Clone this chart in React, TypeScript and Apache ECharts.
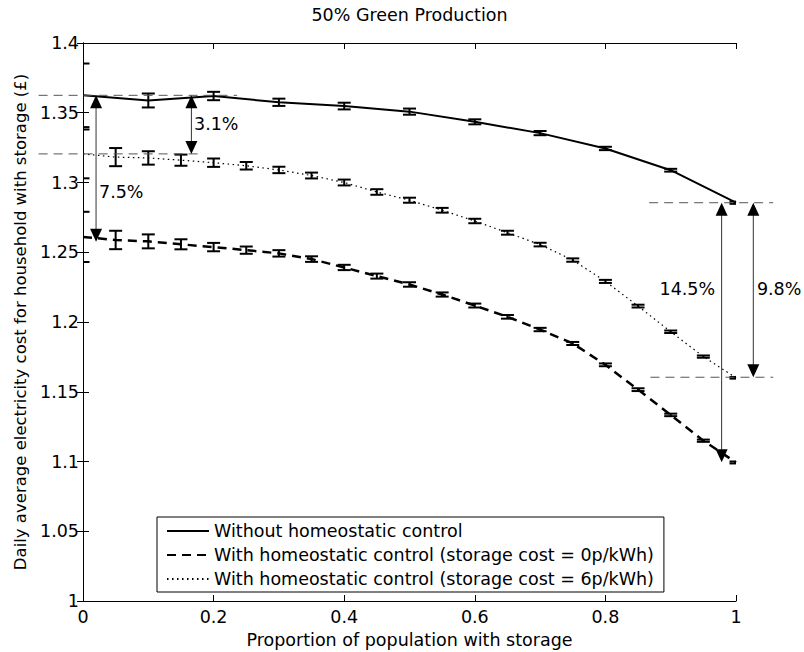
import React, { useEffect, useRef } from 'react';
import * as echarts from 'echarts';

// Proportion of population with storage
const xCoarse = [0, 0.1, 0.2, 0.3, 0.4, 0.5, 0.6, 0.7, 0.8, 0.9, 1.0];
const xFine = [0, 0.05, 0.1, 0.15, 0.2, 0.25, 0.3, 0.35, 0.4, 0.45, 0.5, 0.55, 0.6, 0.65, 0.7, 0.75, 0.8, 0.85, 0.9, 0.95, 1.0];

// Without homeostatic control
const noControl = [1.3625, 1.3588, 1.3620, 1.3575, 1.3548, 1.3508, 1.3435, 1.3354, 1.3244, 1.3088, 1.2855];
const noControlErr = [0.0228, 0.0050, 0.0030, 0.0026, 0.0024, 0.0022, 0.0018, 0.0015, 0.0012, 0.0010, 0.0008];

// With homeostatic control (storage cost = 0p/kWh)
const cost0 = [1.2610, 1.2588, 1.2578, 1.2557, 1.2537, 1.2515, 1.2492, 1.2451, 1.2391, 1.2329, 1.2269, 1.2197, 1.2118, 1.2037, 1.1946, 1.1846, 1.1693, 1.1515, 1.1334, 1.1149, 1.0993];
const cost0Err = [0.0180, 0.0066, 0.0050, 0.0036, 0.0030, 0.0026, 0.0023, 0.0020, 0.0019, 0.0018, 0.0016, 0.0015, 0.0014, 0.0013, 0.0012, 0.0011, 0.0010, 0.0010, 0.0009, 0.0008, 0.0007];

// With homeostatic control (storage cost = 6p/kWh)
const cost6 = [1.3205, 1.3182, 1.3176, 1.3160, 1.3142, 1.3120, 1.3090, 1.3050, 1.3000, 1.2932, 1.2873, 1.2801, 1.2724, 1.2640, 1.2555, 1.2444, 1.2291, 1.2114, 1.1930, 1.1752, 1.1600];
const cost6Err = [0.0175, 0.0065, 0.0048, 0.0040, 0.0030, 0.0027, 0.0023, 0.0021, 0.0021, 0.0020, 0.0018, 0.0017, 0.0016, 0.0014, 0.0013, 0.0012, 0.0011, 0.0010, 0.0009, 0.0008, 0.0006];

const seriesNames = [
  'Without homeostatic control',
  'With homeostatic control (storage cost = 0p/kWh)',
  'With homeostatic control (storage cost = 6p/kWh)',
];

const titleText = '50% Green Production';
const xAxisName = 'Proportion of population with storage';
const yAxisName = 'Daily average electricity cost for household with storage (£)';

// Annotation reference lines: [xFrom, xTo, y]
const refLines = [
  [-0.068, 0.236, 1.3625],
  [-0.068, 0.179, 1.3205],
  [0.867, 1.057, 1.2855],
  [0.869, 1.057, 1.1604],
];
// Double arrows: [x, yTop, yBottom]
const arrows = [
  [0.02, 1.3625, 1.2575],
  [0.166, 1.3625, 1.3205],
  [0.978, 1.2855, 1.0995],
  [1.0265, 1.2855, 1.1604],
];
// Annotation labels
const annoText = ['7.5%', '3.1%', '14.5%', '9.8%'];
const annoPos = [
  [0.0245, 1.293],
  [0.170, 1.3418],
  [0.968, 1.2233],
  [1.032, 1.2233],
];
const annoAlign = ['left', 'left', 'right', 'left'];

const FONT = 'DejaVu Sans';
const FS = 17.5;

function errSeries(xs: number[], ys: number[], es: number[]) {
  return {
    type: 'custom',
    coordinateSystem: 'cartesian2d',
    clip: true,
    silent: true,
    z: 5,
    encode: { x: 0, y: 1 },
    data: xs.map((x, i) => [x, ys[i], es[i]]),
    renderItem: (params: any, api: any) => {
      const x = api.value(0);
      const y = api.value(1);
      const e = api.value(2);
      const t = api.coord([x, y + e]);
      const b = api.coord([x, y - e]);
      const hw = 6.5;
      const st = { stroke: '#000', lineWidth: 2 };
      return {
        type: 'group',
        children: [
          { type: 'line', shape: { x1: t[0], y1: t[1], x2: b[0], y2: b[1] }, style: st },
          { type: 'line', shape: { x1: t[0] - hw, y1: t[1], x2: t[0] + hw, y2: t[1] }, style: st },
          { type: 'line', shape: { x1: b[0] - hw, y1: b[1], x2: b[0] + hw, y2: b[1] }, style: st },
        ],
      };
    },
  };
}

export default function App() {
  const ref = useRef<HTMLDivElement>(null);
  useEffect(() => {
    if (!ref.current) return;
    const chart = echarts.init(ref.current, null, { renderer: 'svg' });
    const axisCommon = {
      type: 'value',
      axisLine: { show: true, lineStyle: { color: '#000', width: 1 } },
      axisTick: { show: true, inside: true, length: 6, lineStyle: { color: '#000' } },
      splitLine: { show: false },
    };
    const option: any = {
      animation: false,
      backgroundColor: '#fff',
      textStyle: { fontFamily: FONT },
      title: {
        text: titleText,
        left: 409.5,
        top: 6,
        padding: 0,
        textAlign: 'center',
        textStyle: { fontFamily: FONT, fontSize: FS, fontWeight: 'normal', color: '#000' },
      },
      grid: { left: 83, right: 68, top: 43, bottom: 51, containLabel: false, outerBoundsMode: 'none' },
      legend: {
        data: seriesNames,
        orient: 'vertical',
        left: 157,
        top: 517,
        padding: [5, 10, 4, 9],
        itemGap: 6,
        itemWidth: 42,
        itemHeight: 19,
        borderColor: '#000',
        borderWidth: 1,
        borderRadius: 0,
        backgroundColor: '#fff',
        selectedMode: false,
        itemStyle: { opacity: 0 },
        textStyle: { fontFamily: FONT, fontSize: FS, color: '#000' },
        z: 20,
      },
      xAxis: [
        {
          ...axisCommon,
          position: 'bottom',
          min: 0,
          max: 1,
          interval: 0.2,
          name: xAxisName,
          nameLocation: 'middle',
          nameGap: 28,
          nameTextStyle: { fontFamily: FONT, fontSize: FS, color: '#000' },
          axisLabel: { fontFamily: FONT, fontSize: FS, color: '#000', margin: 7, showMinLabel: true, showMaxLabel: true },
        },
        {
          ...axisCommon,
          position: 'top',
          min: 0,
          max: 1,
          interval: 0.2,
          axisLabel: { show: false },
        },
      ],
      yAxis: [
        {
          ...axisCommon,
          position: 'left',
          min: 1,
          max: 1.4,
          interval: 0.05,
          name: yAxisName,
          nameLocation: 'middle',
          nameGap: 54,
          nameTextStyle: { fontFamily: FONT, fontSize: 16.5, color: '#000' },
          axisLabel: { fontFamily: FONT, fontSize: FS, color: '#000', margin: 4, showMinLabel: true, showMaxLabel: true },
        },
        {
          ...axisCommon,
          position: 'right',
          min: 1,
          max: 1.4,
          interval: 0.05,
          axisLabel: { show: false },
        },
      ],
      series: [
        {
          name: seriesNames[0],
          type: 'line',
          symbol: 'none',
          z: 3,
          data: xCoarse.map((x, i) => [x, noControl[i]]),
          lineStyle: { color: '#000', width: 2, type: 'solid' },
          itemStyle: { color: '#000' },
        },
        {
          name: seriesNames[1],
          type: 'line',
          symbol: 'none',
          z: 3,
          data: xFine.map((x, i) => [x, cost0[i]]),
          lineStyle: { color: '#000', width: 2.5, type: [9, 6] },
          itemStyle: { color: '#000' },
        },
        {
          name: seriesNames[2],
          type: 'line',
          symbol: 'none',
          z: 3,
          data: xFine.map((x, i) => [x, cost6[i]]),
          lineStyle: { color: '#000', width: 1.2, type: [1.5, 3.5] },
          itemStyle: { color: '#000' },
        },
        errSeries(xCoarse, noControl, noControlErr),
        errSeries(xFine, cost0, cost0Err),
        errSeries(xFine, cost6, cost6Err),
        {
          type: 'custom',
          coordinateSystem: 'cartesian2d',
          clip: false,
          silent: true,
          z: 6,
          encode: { x: 0, y: 2 },
          data: refLines,
          renderItem: (params: any, api: any) => {
            const a = api.coord([api.value(0), api.value(2)]);
            const b = api.coord([api.value(1), api.value(2)]);
            return {
              type: 'line',
              shape: { x1: a[0], y1: a[1], x2: b[0], y2: b[1] },
              style: { stroke: '#555', lineWidth: 1, lineDash: [9, 6] },
            };
          },
        },
        {
          type: 'custom',
          coordinateSystem: 'cartesian2d',
          clip: false,
          silent: true,
          z: 7,
          encode: { x: 0, y: 1 },
          data: arrows,
          renderItem: (params: any, api: any) => {
            const x = api.value(0);
            const p1 = api.coord([x, api.value(1)]);
            const p2 = api.coord([x, api.value(2)]);
            const hw = 6;
            const hl = 13;
            return {
              type: 'group',
              children: [
                { type: 'line', shape: { x1: p1[0], y1: p1[1] + 4, x2: p2[0], y2: p2[1] - 4 }, style: { stroke: '#333', lineWidth: 1 } },
                { type: 'polygon', shape: { points: [[p1[0], p1[1]], [p1[0] - hw, p1[1] + hl], [p1[0] + hw, p1[1] + hl]] }, style: { fill: '#000' } },
                { type: 'polygon', shape: { points: [[p2[0], p2[1]], [p2[0] - hw, p2[1] - hl], [p2[0] + hw, p2[1] - hl]] }, style: { fill: '#000' } },
              ],
            };
          },
        },
        {
          type: 'custom',
          coordinateSystem: 'cartesian2d',
          clip: false,
          silent: true,
          z: 8,
          encode: { x: 0, y: 1 },
          data: annoPos,
          renderItem: (params: any, api: any) => {
            const p = api.coord([api.value(0), api.value(1)]);
            const i = params.dataIndex;
            return {
              type: 'text',
              x: p[0],
              y: p[1],
              style: {
                text: annoText[i],
                fill: '#000',
                fontFamily: FONT,
                fontSize: FS,
                align: annoAlign[i],
                verticalAlign: 'middle',
              },
            };
          },
        },
      ],
    };
    chart.setOption(option);
    return () => chart.dispose();
  }, []);
  return (
    <div
      ref={ref}
      style={{ position: 'fixed', left: 0, top: 0, width: 804, height: 652, background: '#fff' }}
    />
  );
}
